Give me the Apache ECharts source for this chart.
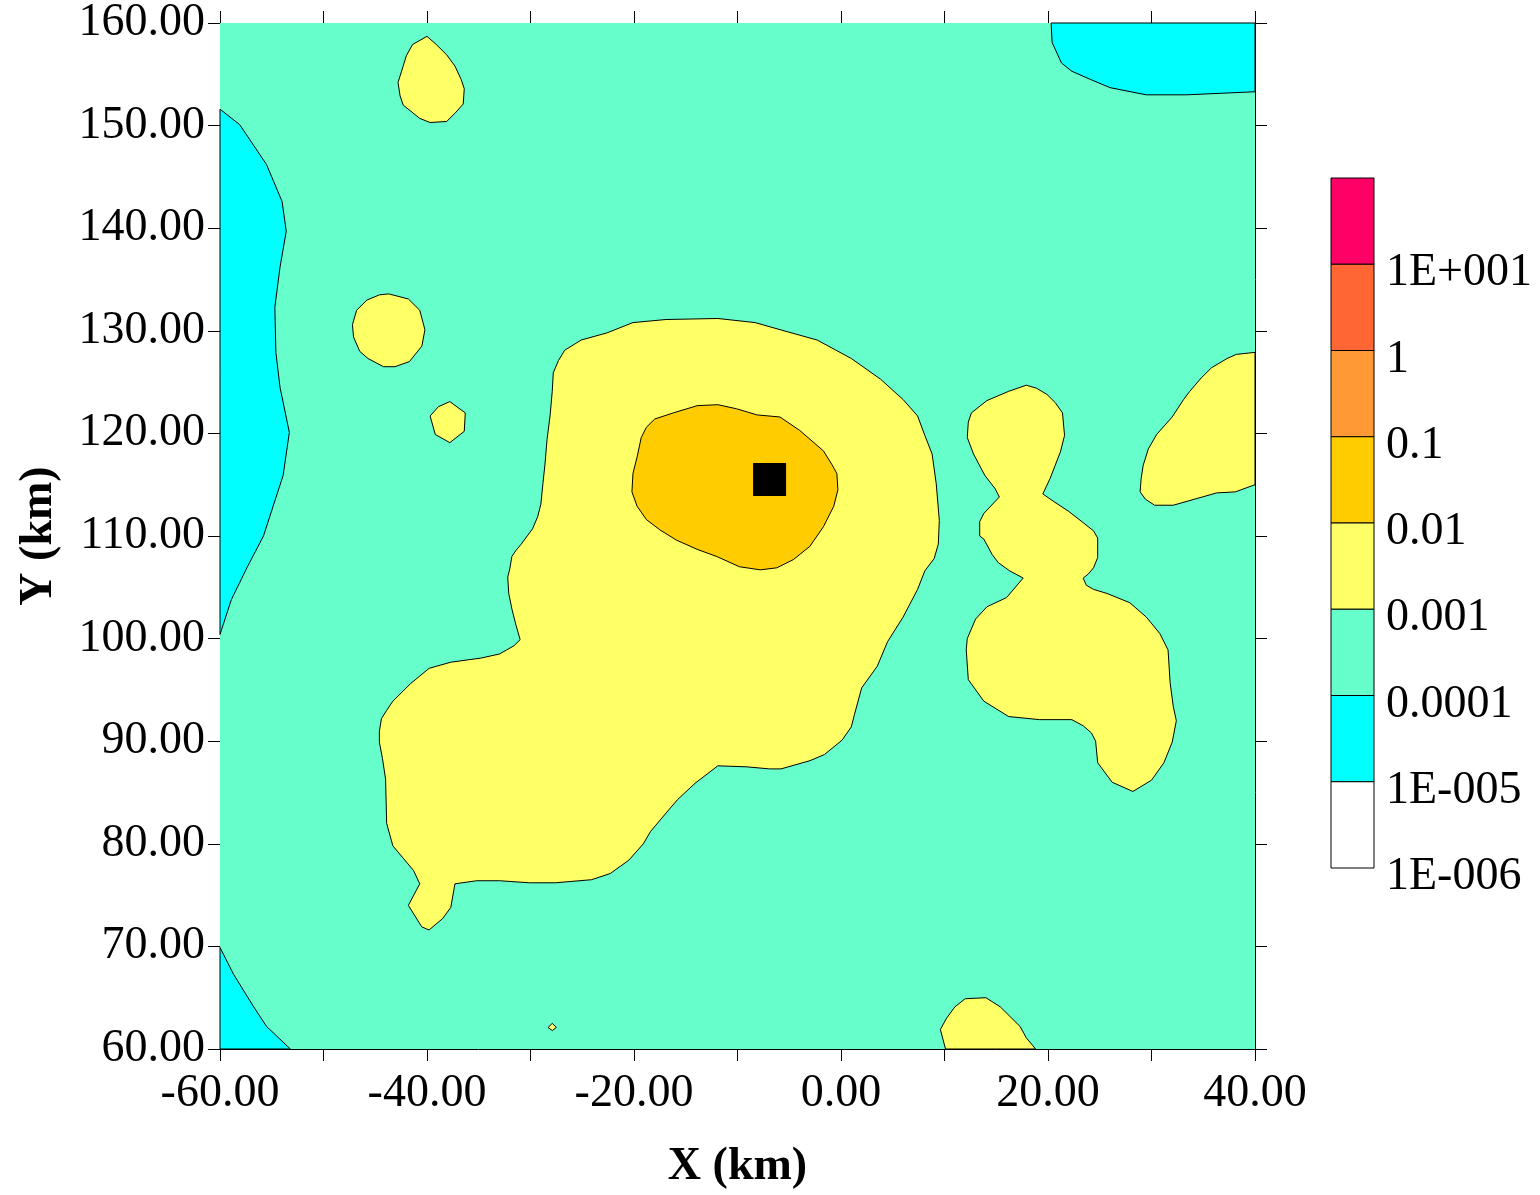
<!DOCTYPE html>
<html>
<head>
<meta charset="utf-8">
<title>Contour map (a)</title>
<script src="https://cdn.jsdelivr.net/npm/echarts@6/dist/echarts.min.js"></script>
<style>
  html, body { margin: 0; padding: 0; background: #fff; }
  #chart { width: 1540px; height: 1195px; }
</style>
</head>
<body>
<div id="chart"></div>
<script>
// ---- Axis ranges and tick labels (km) ----
const xRange = [-60, 40];
const yRange = [60, 160];
const tickStep = 10;

// ---- Colour scale: level bands from highest to lowest ----
const levelColors = ['#FF0066', '#FF6633', '#FF9933', '#FFCC00', '#FFFF66', '#66FFCC', '#00FFFF', '#FFFFFF'];
const levelLabels = ['1E+001', '1', '0.1', '0.01', '0.001', '0.0001', '1E-005', '1E-006'];

// ---- Contour regions, vertices in [X km, Y km] ----
// band 0.001 – 0.0001 covering the whole domain
const baseBand = [[-60, 60], [40, 60], [40, 160], [-60, 160]];

// bands 0.0001 – 1E-005
const lowWest = [[-60, 151.6], [-58.1, 150.1], [-55.5, 146.2], [-54.0, 142.6], [-53.6, 139.7], [-54.2, 136.2],
  [-54.7, 132.3], [-54.6, 127.9], [-54.2, 124.5], [-53.3, 120.1], [-53.9, 115.9], [-55.8, 110.0],
  [-57.4, 106.9], [-58.9, 103.8], [-60, 100.4]];
const lowSouthWest = [[-60, 69.9], [-58.7, 67.3], [-56.8, 64.2], [-55.5, 62.2], [-53.2, 60], [-60, 60]];
const lowNorthEast = [[20.3, 160], [20.4, 158.1], [21.3, 156.1], [22.3, 155.3], [24.1, 154.5], [26.0, 153.7],
  [29.5, 153.0], [33.4, 153.0], [40, 153.3], [40, 160]];

// bands 0.01 – 0.001
const plumeMain = [[-26.7, 128.1], [-25.1, 129.1], [-22.6, 129.8], [-20.1, 130.8], [-16.9, 131.1], [-11.9, 131.2],
  [-8.3, 130.8], [-5.5, 130.0], [-2.3, 129.1], [1.0, 127.3], [3.8, 125.3], [6.0, 123.3], [7.4, 121.7],
  [8.1, 119.8], [8.8, 118.0], [9.2, 115.1], [9.5, 111.5], [9.4, 109.2], [9.0, 107.8], [8.1, 106.6],
  [7.4, 104.8], [6.0, 102.1], [4.5, 99.7], [3.5, 97.3], [2.0, 95.2], [1.3, 92.6], [1.0, 91.4], [0.1, 90.1],
  [-1.6, 88.7], [-3.0, 88.1], [-5.8, 87.3], [-6.9, 87.3], [-9.1, 87.5], [-11.9, 87.6], [-14.1, 85.9],
  [-15.8, 84.3], [-16.9, 83.0], [-18.4, 81.2], [-19.1, 80.0], [-20.5, 78.4], [-22.3, 77.1], [-24.1, 76.5],
  [-27.6, 76.2], [-30.1, 76.2], [-33.0, 76.4], [-35.2, 76.4], [-37.3, 76.1], [-37.7, 73.8], [-38.5, 72.7],
  [-39.8, 71.6], [-40.5, 71.9], [-41.8, 74.0], [-40.7, 76.1], [-41.3, 77.4], [-42.3, 78.6], [-43.3, 79.8],
  [-43.9, 82.0], [-44.0, 86.3], [-44.3, 88.3], [-44.6, 89.9], [-44.6, 91.0], [-44.4, 92.2], [-43.9, 93.0],
  [-43.3, 93.9], [-41.6, 95.6], [-39.8, 97.1], [-37.7, 97.7], [-34.8, 98.1], [-33.0, 98.5], [-31.6, 99.3],
  [-31.0, 99.9], [-31.4, 101.3], [-31.8, 102.9], [-32.1, 104.4], [-32.2, 106.0], [-32.0, 106.8],
  [-31.8, 108.0], [-31.4, 108.6], [-30.9, 109.2], [-29.8, 110.7], [-29.3, 111.9], [-29.0, 113.1],
  [-28.8, 115.1], [-28.6, 117.0], [-28.4, 119.4], [-28.1, 121.8], [-27.9, 124.1], [-27.8, 125.9], [-27.3, 127.1]];
const eastChain = [[12.6, 122.0], [14.1, 123.2], [16.2, 124.1], [17.9, 124.7], [18.9, 124.4], [19.9, 123.8],
  [20.7, 123.0], [21.4, 122.0], [21.6, 119.8], [21.2, 118.2], [20.7, 116.9], [20.2, 115.6], [19.5, 114.1],
  [20.5, 113.4], [22.0, 112.4], [23.4, 111.3], [24.4, 110.5], [24.8, 109.8], [24.8, 107.9], [24.4, 106.9],
  [23.9, 106.3], [23.4, 105.9], [23.7, 105.2], [24.4, 104.8], [25.7, 104.4], [27.9, 103.5], [29.5, 102.1],
  [30.8, 100.5], [31.6, 98.9], [31.8, 95.7], [32.1, 93.4], [32.4, 92.0], [32.0, 89.9], [31.2, 87.9],
  [30.0, 86.2], [28.2, 85.1], [26.2, 86.0], [24.8, 87.9], [24.6, 90.0], [24.2, 90.8], [23.4, 91.5],
  [22.3, 92.1], [19.2, 92.1], [16.2, 92.4], [13.8, 93.9], [12.3, 96.0], [12.1, 98.9], [12.2, 100.0],
  [13.0, 101.9], [14.1, 103.1], [16.0, 104.0], [17.6, 105.9], [16.3, 106.6], [15.2, 107.4], [14.6, 108.2],
  [13.8, 109.7], [13.4, 110.0], [13.4, 111.4], [13.8, 112.2], [15.3, 113.8], [14.9, 114.6], [13.9, 115.9],
  [12.8, 118.0], [12.2, 119.6], [12.3, 121.1]];
const eastEdge = [[40, 127.9], [38.2, 127.7], [37.3, 127.3], [35.8, 126.4], [34.8, 125.4], [33.7, 124.1],
  [33.1, 123.3], [32.0, 121.6], [30.5, 119.9], [29.7, 118.5], [29.2, 116.9], [29.0, 115.6], [28.9, 114.3],
  [29.4, 113.6], [30.3, 113.0], [32.1, 113.0], [34.2, 113.6], [36.3, 114.2], [38.1, 114.3], [40, 115.0]];
const northPatch = [[-40.0, 158.7], [-39.1, 157.9], [-38.1, 156.9], [-37.3, 155.8], [-36.7, 154.5], [-36.4, 153.6],
  [-36.5, 152.1], [-37.3, 151.2], [-38.1, 150.4], [-39.7, 150.3], [-40.7, 150.7], [-42.3, 152.0],
  [-42.6, 152.9], [-42.8, 154.2], [-42.3, 155.8], [-42.0, 156.8], [-41.4, 157.9]];
const roundPatch = [[-43.7, 133.6], [-41.8, 133.1], [-40.7, 132.0], [-40.2, 130.1], [-40.5, 128.5], [-41.7, 127.0],
  [-43.1, 126.5], [-44.2, 126.5], [-45.7, 127.3], [-46.5, 128.0], [-47.1, 129.4], [-47.2, 130.6],
  [-46.8, 132.0], [-45.8, 133.0], [-44.6, 133.5]];
const smallPatch = [[-37.8, 123.1], [-36.3, 122.0], [-36.4, 120.2], [-37.8, 119.1], [-39.2, 119.9], [-39.7, 121.7], [-38.9, 122.6]];
const southPatch = [[10.1, 60], [9.6, 61.9], [10.2, 63.0], [11.0, 64.1], [12.0, 64.9], [14.0, 65.0], [15.4, 64.1],
  [16.3, 63.2], [17.3, 62.2], [17.9, 61.1], [18.8, 60]];
const speck = [[-27.9, 62.5], [-27.5, 62.1], [-27.9, 61.8], [-28.3, 62.1]];

// bands 0.1 – 0.01
const coreBand = [[-18.0, 121.4], [-16.2, 122.0], [-13.9, 122.7], [-11.9, 122.8], [-10.1, 122.4], [-8.1, 121.8],
  [-5.9, 121.6], [-4.0, 120.3], [-1.7, 118.3], [-0.9, 117.0], [-0.4, 116.1], [-0.3, 114.5], [-0.7, 112.9],
  [-1.7, 110.9], [-3.0, 109.0], [-4.6, 107.7], [-6.2, 106.9], [-7.8, 106.7], [-9.8, 107.0], [-12.0, 108.0],
  [-13.9, 108.7], [-15.9, 109.6], [-17.5, 110.6], [-18.8, 111.6], [-19.7, 112.9], [-20.2, 114.3],
  [-20.1, 116.1], [-19.7, 117.7], [-19.3, 119.6], [-18.8, 120.6]];

// source location
const source = [[-6.9, 115.5]];

// regions in drawing order, each with its band index into levelColors
const regions = [
  { band: 5, pts: baseBand, edge: false },
  { band: 6, pts: lowWest, edge: true },
  { band: 6, pts: lowSouthWest, edge: true },
  { band: 6, pts: lowNorthEast, edge: true },
  { band: 4, pts: plumeMain, edge: true },
  { band: 4, pts: eastChain, edge: true },
  { band: 4, pts: eastEdge, edge: true },
  { band: 4, pts: northPatch, edge: true },
  { band: 4, pts: roundPatch, edge: true },
  { band: 4, pts: smallPatch, edge: true },
  { band: 4, pts: southPatch, edge: true },
  { band: 4, pts: speck, edge: true },
  { band: 3, pts: coreBand, edge: true }
];

const FONT = '"Liberation Serif", "Times New Roman", Times, serif';
const GRID = { left: 220, top: 20, width: 1035, height: 1036 };

// colour bar beside the plot
const barX = 1331, barTop = 178, barW = 43, barH = 690;
const cell = barH / levelColors.length;
const barGraphics = [];
levelColors.forEach((c, i) => {
  barGraphics.push({
    type: 'rect',
    shape: { x: barX, y: barTop + i * cell, width: barW, height: cell },
    style: { fill: c, stroke: '#000', lineWidth: 1 }
  });
});
levelLabels.forEach((t, i) => {
  barGraphics.push({
    type: 'text',
    x: 1386, y: barTop + (i + 1) * cell + 9,
    style: { text: t, font: '46px ' + FONT, fill: '#000', textAlign: 'left', textVerticalAlign: 'middle' }
  });
});
barGraphics.push({
  type: 'text', x: 1178, y: 186,
  style: { text: '(a)', font: 'bold 42px ' + FONT, fill: '#000', textAlign: 'center', textVerticalAlign: 'middle' }
});

const axisLine = { show: true, onZero: false, lineStyle: { color: '#000', width: 1 } };
const axisTick = { show: true, inside: false, length: 12, lineStyle: { color: '#000', width: 1 } };
const labelStyle = { fontFamily: FONT, fontSize: 46, color: '#000' };

const chart = echarts.init(document.getElementById('chart'), null, { renderer: 'canvas' });
chart.setOption({
  animation: false,
  backgroundColor: '#fff',
  grid: { left: GRID.left, top: GRID.top, width: GRID.width, height: GRID.height, containLabel: false },
  xAxis: [
    {
      type: 'value', min: xRange[0], max: xRange[1], interval: tickStep, position: 'bottom',
      axisLine, axisTick, splitLine: { show: false },
      axisLabel: Object.assign({ margin: 22, formatter: v => (Math.round(v) % 20 === 0 ? v.toFixed(2) : '') }, labelStyle),
      name: 'X (km)', nameLocation: 'middle', nameGap: 95,
      nameTextStyle: { fontFamily: FONT, fontSize: 46, fontWeight: 'bold', color: '#000' }
    },
    {
      type: 'value', min: xRange[0], max: xRange[1], interval: tickStep, position: 'top',
      axisLine, axisTick, splitLine: { show: false }, axisLabel: { show: false }
    }
  ],
  yAxis: [
    {
      type: 'value', min: yRange[0], max: yRange[1], interval: tickStep, position: 'left',
      axisLine, axisTick, splitLine: { show: false },
      axisLabel: Object.assign({ margin: 15, formatter: v => v.toFixed(2) }, labelStyle),
      name: 'Y (km)', nameLocation: 'middle', nameGap: 158, nameRotate: 90,
      nameTextStyle: { fontFamily: FONT, fontSize: 46, fontWeight: 'bold', color: '#000' }
    },
    {
      type: 'value', min: yRange[0], max: yRange[1], interval: tickStep, position: 'right',
      axisLine, axisTick, splitLine: { show: false }, axisLabel: { show: false }
    }
  ],
  series: [
    {
      type: 'custom',
      xAxisIndex: 0, yAxisIndex: 0,
      data: regions.map(r => r.pts[0]),
      encode: { x: 0, y: 1 },
      silent: true,
      z: 1,
      renderItem: function (params, api) {
        const r = regions[params.dataIndex];
        return {
          type: 'polygon',
          shape: { points: r.pts.map(p => api.coord(p)) },
          style: {
            fill: levelColors[r.band],
            stroke: r.edge ? '#000' : null,
            lineWidth: r.edge ? 1 : 0
          }
        };
      }
    },
    {
      type: 'scatter',
      xAxisIndex: 0, yAxisIndex: 0,
      data: source,
      symbol: 'rect',
      symbolSize: 33,
      itemStyle: { color: '#000', opacity: 1 },
      silent: true,
      z: 3
    }
  ],
  graphic: barGraphics
});
</script>
</body>
</html>
